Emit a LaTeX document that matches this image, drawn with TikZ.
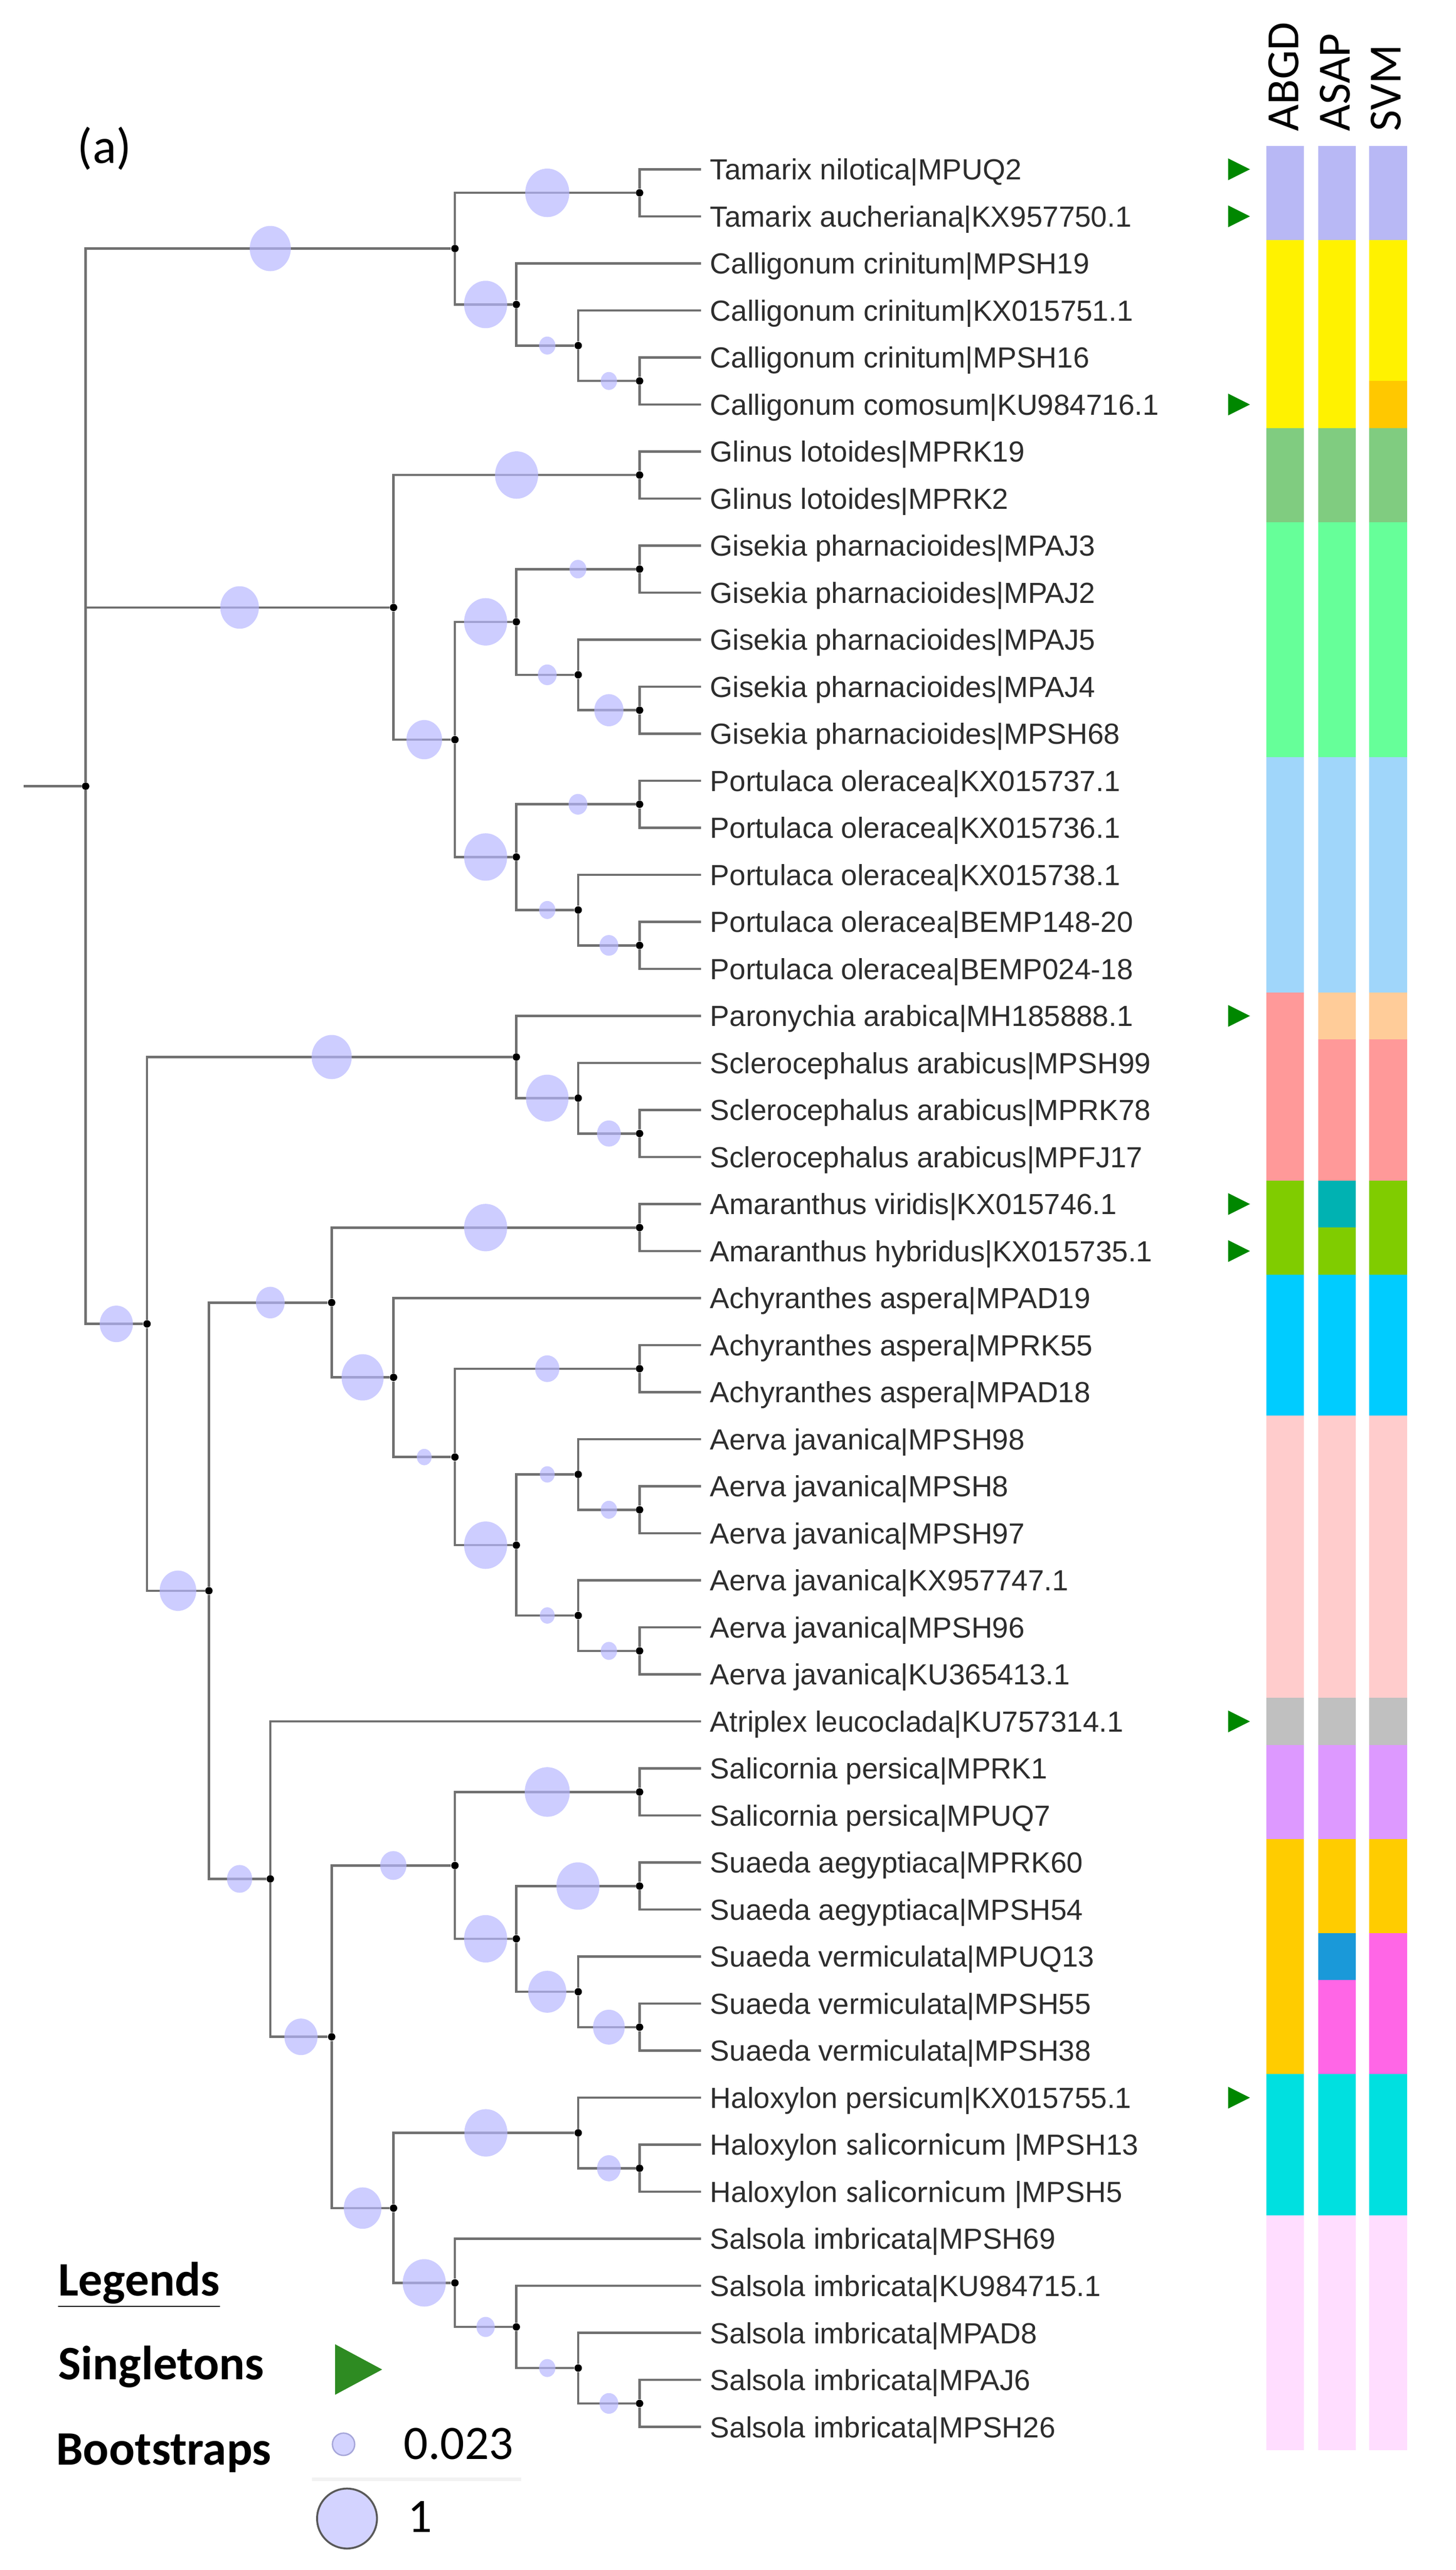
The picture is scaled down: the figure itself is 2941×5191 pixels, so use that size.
\documentclass[tikz,border=0pt]{standalone}
\usepackage{fontspec}
\setmainfont{Liberation Sans}
\newfontfamily\calibri{Carlito}
\usetikzlibrary{shapes.geometric}

\definecolor{branchgrey}{RGB}{112,112,112}
\definecolor{labelgrey}{RGB}{45,45,45}
\definecolor{bootfill}{RGB}{182,182,255}
\definecolor{singlegreen}{RGB}{0,135,0}
\definecolor{legendgreen}{RGB}{46,139,34}
\definecolor{cTam}{RGB}{184,184,245}
\definecolor{cCal}{RGB}{255,242,0}
\definecolor{cCalB}{RGB}{255,200,0}
\definecolor{cGli}{RGB}{128,204,128}
\definecolor{cGis}{RGB}{102,255,153}
\definecolor{cPor}{RGB}{160,214,250}
\definecolor{cScl}{RGB}{255,153,153}
\definecolor{cPar}{RGB}{255,204,153}
\definecolor{cAma}{RGB}{128,204,0}
\definecolor{cAmaB}{RGB}{0,178,178}
\definecolor{cAch}{RGB}{0,204,255}
\definecolor{cAer}{RGB}{255,204,204}
\definecolor{cAtr}{RGB}{192,192,192}
\definecolor{cSali}{RGB}{221,153,255}
\definecolor{cSua}{RGB}{255,204,0}
\definecolor{cSuaB}{RGB}{26,153,217}
\definecolor{cVer}{RGB}{255,102,230}
\definecolor{cHal}{RGB}{0,224,224}
\definecolor{cSal}{RGB}{255,221,255}

\newcommand{\singleton}[1]{\fill[singlegreen] (2481,#1-22) -- (2525,#1) -- (2481,#1+22) -- cycle;}

\begin{document}
\begin{tikzpicture}[x=0.01cm,y=-0.01cm,
  leaf/.style={anchor=west,inner xsep=0.18cm,inner ysep=0pt,text height=12pt,text depth=0pt,
    font=\fontsize{16.7pt}{20pt}\selectfont,text=labelgrey},
  dot/.style={circle,fill=black,inner sep=0pt,minimum size=0.15cm},
  branch/.style={draw=branchgrey,line width=1.35pt},
  boot/.style={ellipse,fill=bootfill,fill opacity=0.685,inner sep=0pt,
    minimum width=#1*0.01cm,minimum height=#1*0.011cm},
  method/.style={anchor=base west,rotate=90,inner sep=0pt,font=\calibri\fontsize{26.5pt}{30pt}\selectfont},
  legend/.style={anchor=base west,inner sep=0pt,font=\calibri\bfseries\fontsize{27.6pt}{32pt}\selectfont},
  value/.style={anchor=base west,inner sep=0pt,font=\calibri\fontsize{27.6pt}{32pt}\selectfont}]

\useasboundingbox (0,0) rectangle (2941,5191);

\node[anchor=base west,inner sep=0pt,font=\calibri\fontsize{28.5pt}{32pt}\selectfont](panel) at (156,330) {(a)};

%LEAVES
\node[leaf](l1) at (1416,342) {Tamarix nilotica|MPUQ2};
\node[leaf](l2) at (1416,437) {Tamarix aucheriana|KX957750.1};
\node[leaf](l3) at (1416,532) {Calligonum crinitum|MPSH19};
\node[leaf](l4) at (1416,627) {Calligonum crinitum|KX015751.1};
\node[leaf](l5) at (1416,722) {Calligonum crinitum|MPSH16};
\node[leaf](l6) at (1416,817) {Calligonum comosum|KU984716.1};
\node[leaf](l7) at (1416,912) {Glinus lotoides|MPRK19};
\node[leaf](l8) at (1416,1007) {Glinus lotoides|MPRK2};
\node[leaf](l9) at (1416,1102) {Gisekia pharnacioides|MPAJ3};
\node[leaf](l10) at (1416,1197) {Gisekia pharnacioides|MPAJ2};
\node[leaf](l11) at (1416,1292) {Gisekia pharnacioides|MPAJ5};
\node[leaf](l12) at (1416,1387) {Gisekia pharnacioides|MPAJ4};
\node[leaf](l13) at (1416,1482) {Gisekia pharnacioides|MPSH68};
\node[leaf](l14) at (1416,1577) {Portulaca oleracea|KX015737.1};
\node[leaf](l15) at (1416,1672) {Portulaca oleracea|KX015736.1};
\node[leaf](l16) at (1416,1767) {Portulaca oleracea|KX015738.1};
\node[leaf](l17) at (1416,1862) {Portulaca oleracea|BEMP148-20};
\node[leaf](l18) at (1416,1957) {Portulaca oleracea|BEMP024-18};
\node[leaf](l19) at (1416,2052) {Paronychia arabica|MH185888.1};
\node[leaf](l20) at (1416,2147) {Sclerocephalus arabicus|MPSH99};
\node[leaf](l21) at (1416,2242) {Sclerocephalus arabicus|MPRK78};
\node[leaf](l22) at (1416,2337) {Sclerocephalus arabicus|MPFJ17};
\node[leaf](l23) at (1416,2432) {Amaranthus viridis|KX015746.1};
\node[leaf](l24) at (1416,2527) {Amaranthus hybridus|KX015735.1};
\node[leaf](l25) at (1416,2622) {Achyranthes aspera|MPAD19};
\node[leaf](l26) at (1416,2717) {Achyranthes aspera|MPRK55};
\node[leaf](l27) at (1416,2812) {Achyranthes aspera|MPAD18};
\node[leaf](l28) at (1416,2907) {Aerva javanica|MPSH98};
\node[leaf](l29) at (1416,3002) {Aerva javanica|MPSH8};
\node[leaf](l30) at (1416,3097) {Aerva javanica|MPSH97};
\node[leaf](l31) at (1416,3192) {Aerva javanica|KX957747.1};
\node[leaf](l32) at (1416,3287) {Aerva javanica|MPSH96};
\node[leaf](l33) at (1416,3382) {Aerva javanica|KU365413.1};
\node[leaf](l34) at (1416,3477) {Atriplex leucoclada|KU757314.1};
\node[leaf](l35) at (1416,3572) {Salicornia persica|MPRK1};
\node[leaf](l36) at (1416,3667) {Salicornia persica|MPUQ7};
\node[leaf](l37) at (1416,3762) {Suaeda aegyptiaca|MPRK60};
\node[leaf](l38) at (1416,3857) {Suaeda aegyptiaca|MPSH54};
\node[leaf](l39) at (1416,3952) {Suaeda vermiculata|MPUQ13};
\node[leaf](l40) at (1416,4047) {Suaeda vermiculata|MPSH55};
\node[leaf](l41) at (1416,4142) {Suaeda vermiculata|MPSH38};
\node[leaf](l42) at (1416,4237) {Haloxylon persicum|KX015755.1};
\node[leaf](l43) at (1416,4332) {Haloxylon {\calibri\fontsize{18pt}{20pt}\selectfont salicornicum} |MPSH13};
\node[leaf](l44) at (1416,4427) {Haloxylon {\calibri\fontsize{18pt}{20pt}\selectfont salicornicum} |MPSH5};
\node[leaf](l45) at (1416,4522) {Salsola imbricata|MPSH69};
\node[leaf](l46) at (1416,4617) {Salsola imbricata|KU984715.1};
\node[leaf](l47) at (1416,4712) {Salsola imbricata|MPAD8};
\node[leaf](l48) at (1416,4807) {Salsola imbricata|MPAJ6};
\node[leaf](l49) at (1416,4902) {Salsola imbricata|MPSH26};

%INNER NODES
\coordinate (stub) at (48,1588);
\node[dot](root) at (173,1588) {};
\node[dot](tc) at (919,502) {};
\node[dot](tam) at (1292,389.5) {};
\node[dot](cal7) at (1043,615) {};
\node[dot](cal8) at (1168,698) {};
\node[dot](cal9) at (1292,769.5) {};
\node[dot](gg) at (795,1227) {};
\node[dot](gli) at (1292,959.5) {};
\node[dot](gp) at (919,1494) {};
\node[dot](gis7) at (1043,1256) {};
\node[dot](gis9a) at (1292,1149.5) {};
\node[dot](gis8) at (1168,1363) {};
\node[dot](gis9b) at (1292,1434.5) {};
\node[dot](por7) at (1043,1731) {};
\node[dot](por9a) at (1292,1624.5) {};
\node[dot](por8) at (1168,1838) {};
\node[dot](por9b) at (1292,1909.5) {};
\node[dot](low) at (297,2674) {};
\node[dot](par) at (1043,2135) {};
\node[dot](scl8) at (1168,2218) {};
\node[dot](scl9) at (1292,2289.5) {};
\node[dot](am) at (422,3213) {};
\node[dot](ama1) at (670,2631) {};
\node[dot](ama) at (1292,2479.5) {};
\node[dot](ach5) at (795,2782) {};
\node[dot](ach6) at (919,2943) {};
\node[dot](ach) at (1292,2764.5) {};
\node[dot](aer7) at (1043,3121) {};
\node[dot](aer8a) at (1168,2978) {};
\node[dot](aer9a) at (1292,3049.5) {};
\node[dot](aer8b) at (1168,3263) {};
\node[dot](aer9b) at (1292,3334.5) {};
\node[dot](che3) at (546,3795) {};
\node[dot](che4) at (670,4114) {};
\node[dot](ss) at (919,3768) {};
\node[dot](sali) at (1292,3619.5) {};
\node[dot](sua7) at (1043,3916) {};
\node[dot](suaa) at (1292,3809.5) {};
\node[dot](ver8) at (1168,4023) {};
\node[dot](ver9) at (1292,4094.5) {};
\node[dot](hs) at (795,4460) {};
\node[dot](hal8) at (1168,4308) {};
\node[dot](hal9) at (1292,4379.5) {};
\node[dot](sal6) at (919,4611) {};
\node[dot](sal7) at (1043,4700) {};
\node[dot](sal8) at (1168,4783) {};
\node[dot](sal9) at (1292,4854.5) {};

%BRANCHES
\draw[branch] (stub) -- (root);
\draw[branch] (root) |- (tc) (root) |- (gg) (root) |- (low);

\draw[branch] (tc) |- (tam) (tc) |- (cal7);
\draw[branch] (tam) |- (l1) (tam) |- (l2);
\draw[branch] (cal7) |- (l3) (cal7) |- (cal8);
\draw[branch] (cal8) |- (l4) (cal8) |- (cal9);
\draw[branch] (cal9) |- (l5) (cal9) |- (l6);

\draw[branch] (gg) |- (gli) (gg) |- (gp);
\draw[branch] (gli) |- (l7) (gli) |- (l8);
\draw[branch] (gp) |- (gis7) (gp) |- (por7);
\draw[branch] (gis7) |- (gis9a) (gis7) |- (gis8);
\draw[branch] (gis9a) |- (l9) (gis9a) |- (l10);
\draw[branch] (gis8) |- (l11) (gis8) |- (gis9b);
\draw[branch] (gis9b) |- (l12) (gis9b) |- (l13);
\draw[branch] (por7) |- (por9a) (por7) |- (por8);
\draw[branch] (por9a) |- (l14) (por9a) |- (l15);
\draw[branch] (por8) |- (l16) (por8) |- (por9b);
\draw[branch] (por9b) |- (l17) (por9b) |- (l18);

\draw[branch] (low) |- (par) (low) |- (am);
\draw[branch] (par) |- (l19) (par) |- (scl8);
\draw[branch] (scl8) |- (l20) (scl8) |- (scl9);
\draw[branch] (scl9) |- (l21) (scl9) |- (l22);

\draw[branch] (am) |- (ama1) (am) |- (che3);
\draw[branch] (ama1) |- (ama) (ama1) |- (ach5);
\draw[branch] (ama) |- (l23) (ama) |- (l24);
\draw[branch] (ach5) |- (l25) (ach5) |- (ach6);
\draw[branch] (ach6) |- (ach) (ach6) |- (aer7);
\draw[branch] (ach) |- (l26) (ach) |- (l27);
\draw[branch] (aer7) |- (aer8a) (aer7) |- (aer8b);
\draw[branch] (aer8a) |- (l28) (aer8a) |- (aer9a);
\draw[branch] (aer9a) |- (l29) (aer9a) |- (l30);
\draw[branch] (aer8b) |- (l31) (aer8b) |- (aer9b);
\draw[branch] (aer9b) |- (l32) (aer9b) |- (l33);

\draw[branch] (che3) |- (l34) (che3) |- (che4);
\draw[branch] (che4) |- (ss) (che4) |- (hs);
\draw[branch] (ss) |- (sali) (ss) |- (sua7);
\draw[branch] (sali) |- (l35) (sali) |- (l36);
\draw[branch] (sua7) |- (suaa) (sua7) |- (ver8);
\draw[branch] (suaa) |- (l37) (suaa) |- (l38);
\draw[branch] (ver8) |- (l39) (ver8) |- (ver9);
\draw[branch] (ver9) |- (l40) (ver9) |- (l41);
\draw[branch] (hs) |- (hal8) (hs) |- (sal6);
\draw[branch] (hal8) |- (l42) (hal8) |- (hal9);
\draw[branch] (hal9) |- (l43) (hal9) |- (l44);
\draw[branch] (sal6) |- (l45) (sal6) |- (sal7);
\draw[branch] (sal7) |- (l46) (sal7) |- (sal8);
\draw[branch] (sal8) |- (l47) (sal8) |- (sal9);
\draw[branch] (sal9) |- (l48) (sal9) |- (l49);

%BOOTSTRAPS
\node[boot=83](btc) at (546,502) {};
\node[boot=89](btam) at (1105.5,389.5) {};
\node[boot=87](bcal7) at (981,615) {};
\node[boot=33](bcal8) at (1105.5,698) {};
\node[boot=33](bcal9) at (1230,769.5) {};
\node[boot=78](bgg) at (484,1227) {};
\node[boot=87](bgli) at (1043.5,959.5) {};
\node[boot=72](bgp) at (857,1494) {};
\node[boot=87](bgis7) at (981,1256) {};
\node[boot=34](bgis9a) at (1167.5,1149.5) {};
\node[boot=38](bgis8) at (1105.5,1363) {};
\node[boot=59](bgis9b) at (1230,1434.5) {};
\node[boot=87](bpor7) at (981,1731) {};
\node[boot=38](bpor9a) at (1167.5,1624.5) {};
\node[boot=33](bpor8) at (1105.5,1838) {};
\node[boot=38](bpor9b) at (1230,1909.5) {};
\node[boot=67](blow) at (235,2674) {};
\node[boot=81](bpar) at (670,2135) {};
\node[boot=86](bscl8) at (1105.5,2218) {};
\node[boot=48](bscl9) at (1230,2289.5) {};
\node[boot=74](bam) at (359.5,3213) {};
\node[boot=58](bama1) at (546,2631) {};
\node[boot=87](bama) at (981,2479.5) {};
\node[boot=85](bach5) at (732.5,2782) {};
\node[boot=30](bach6) at (857,2943) {};
\node[boot=49](bach) at (1105.5,2764.5) {};
\node[boot=87](baer7) at (981,3121) {};
\node[boot=30](baer8a) at (1105.5,2978) {};
\node[boot=33](baer9a) at (1230,3049.5) {};
\node[boot=30](baer8b) at (1105.5,3263) {};
\node[boot=33](baer9b) at (1230,3334.5) {};
\node[boot=51](bche3) at (484,3795) {};
\node[boot=67](bche4) at (608,4114) {};
\node[boot=53](bss) at (794.5,3768) {};
\node[boot=91](bsali) at (1105.5,3619.5) {};
\node[boot=87](bsua7) at (981,3916) {};
\node[boot=87](bsuaa) at (1167.5,3809.5) {};
\node[boot=77](bver8) at (1105.5,4023) {};
\node[boot=64](bver9) at (1230,4094.5) {};
\node[boot=76](bhs) at (732.5,4460) {};
\node[boot=87](bhal8) at (981.5,4308) {};
\node[boot=48](bhal9) at (1230,4379.5) {};
\node[boot=87](bsal6) at (857,4611) {};
\node[boot=37](bsal7) at (981,4700) {};
\node[boot=33](bsal8) at (1105.5,4783) {};
\node[boot=38](bsal9) at (1230,4854.5) {};

%SINGLETONS
\singleton{342}
\singleton{437}
\singleton{817}
\singleton{2052}
\singleton{2432}
\singleton{2527}
\singleton{3477}
\singleton{4237}

%METHODS
\node[method](abgd) at (2623,266) {ABGD};
\node[method](asap) at (2727,266) {ASAP};
\node[method](svm) at (2830,266) {SVM};

% ABGD
\fill[cTam] (2558,294.5) rectangle (2634,484.5);
\fill[cCal] (2558,484.5) rectangle (2634,864.5);
\fill[cGli] (2558,864.5) rectangle (2634,1054.5);
\fill[cGis] (2558,1054.5) rectangle (2634,1529.5);
\fill[cPor] (2558,1529.5) rectangle (2634,2004.5);
\fill[cScl] (2558,2004.5) rectangle (2634,2384.5);
\fill[cAma] (2558,2384.5) rectangle (2634,2574.5);
\fill[cAch] (2558,2574.5) rectangle (2634,2859.5);
\fill[cAer] (2558,2859.5) rectangle (2634,3429.5);
\fill[cAtr] (2558,3429.5) rectangle (2634,3524.5);
\fill[cSali] (2558,3524.5) rectangle (2634,3714.5);
\fill[cSua] (2558,3714.5) rectangle (2634,4189.5);
\fill[cHal] (2558,4189.5) rectangle (2634,4474.5);
\fill[cSal] (2558,4474.5) rectangle (2634,4949.5);

% ASAP
\fill[cTam] (2663,294.5) rectangle (2739,484.5);
\fill[cCal] (2663,484.5) rectangle (2739,864.5);
\fill[cGli] (2663,864.5) rectangle (2739,1054.5);
\fill[cGis] (2663,1054.5) rectangle (2739,1529.5);
\fill[cPor] (2663,1529.5) rectangle (2739,2004.5);
\fill[cPar] (2663,2004.5) rectangle (2739,2099.5);
\fill[cScl] (2663,2099.5) rectangle (2739,2384.5);
\fill[cAmaB] (2663,2384.5) rectangle (2739,2479.5);
\fill[cAma] (2663,2479.5) rectangle (2739,2574.5);
\fill[cAch] (2663,2574.5) rectangle (2739,2859.5);
\fill[cAer] (2663,2859.5) rectangle (2739,3429.5);
\fill[cAtr] (2663,3429.5) rectangle (2739,3524.5);
\fill[cSali] (2663,3524.5) rectangle (2739,3714.5);
\fill[cSua] (2663,3714.5) rectangle (2739,3904.5);
\fill[cSuaB] (2663,3904.5) rectangle (2739,3999.5);
\fill[cVer] (2663,3999.5) rectangle (2739,4189.5);
\fill[cHal] (2663,4189.5) rectangle (2739,4474.5);
\fill[cSal] (2663,4474.5) rectangle (2739,4949.5);

% SVM
\fill[cTam] (2766,294.5) rectangle (2843,484.5);
\fill[cCal] (2766,484.5) rectangle (2843,769.5);
\fill[cCalB] (2766,769.5) rectangle (2843,864.5);
\fill[cGli] (2766,864.5) rectangle (2843,1054.5);
\fill[cGis] (2766,1054.5) rectangle (2843,1529.5);
\fill[cPor] (2766,1529.5) rectangle (2843,2004.5);
\fill[cPar] (2766,2004.5) rectangle (2843,2099.5);
\fill[cScl] (2766,2099.5) rectangle (2843,2384.5);
\fill[cAma] (2766,2384.5) rectangle (2843,2574.5);
\fill[cAch] (2766,2574.5) rectangle (2843,2859.5);
\fill[cAer] (2766,2859.5) rectangle (2843,3429.5);
\fill[cAtr] (2766,3429.5) rectangle (2843,3524.5);
\fill[cSali] (2766,3524.5) rectangle (2843,3714.5);
\fill[cSua] (2766,3714.5) rectangle (2843,3904.5);
\fill[cVer] (2766,3904.5) rectangle (2843,4189.5);
\fill[cHal] (2766,4189.5) rectangle (2843,4474.5);
\fill[cSal] (2766,4474.5) rectangle (2843,4949.5);

%LEGEND
\node[legend](legtitle) at (117,4637) {\underline{Legends}};
\node[legend](legsingle) at (117,4806) {Singletons};
\fill[legendgreen] (677,4735) -- (772,4786) -- (677,4837) -- cycle;
\node[legend](legboot) at (113,4979) {Bootstraps};
\node[circle,fill=bootfill!60,draw=bootfill!70!gray,line width=0.8pt,inner sep=0pt,minimum size=0.45cm](bmin) at (694,4937) {};
\node[value](vmin) at (815,4967) {0.023};
\draw[black!5,line width=2pt] (630,5008) -- (1053,5008);
\node[circle,fill=bootfill!60,draw=black!65,line width=1.1pt,inner sep=0pt,minimum size=1.21cm](bmax) at (701,5087) {};
\node[value](vmax) at (823,5115) {1};

\end{tikzpicture}
\end{document}
